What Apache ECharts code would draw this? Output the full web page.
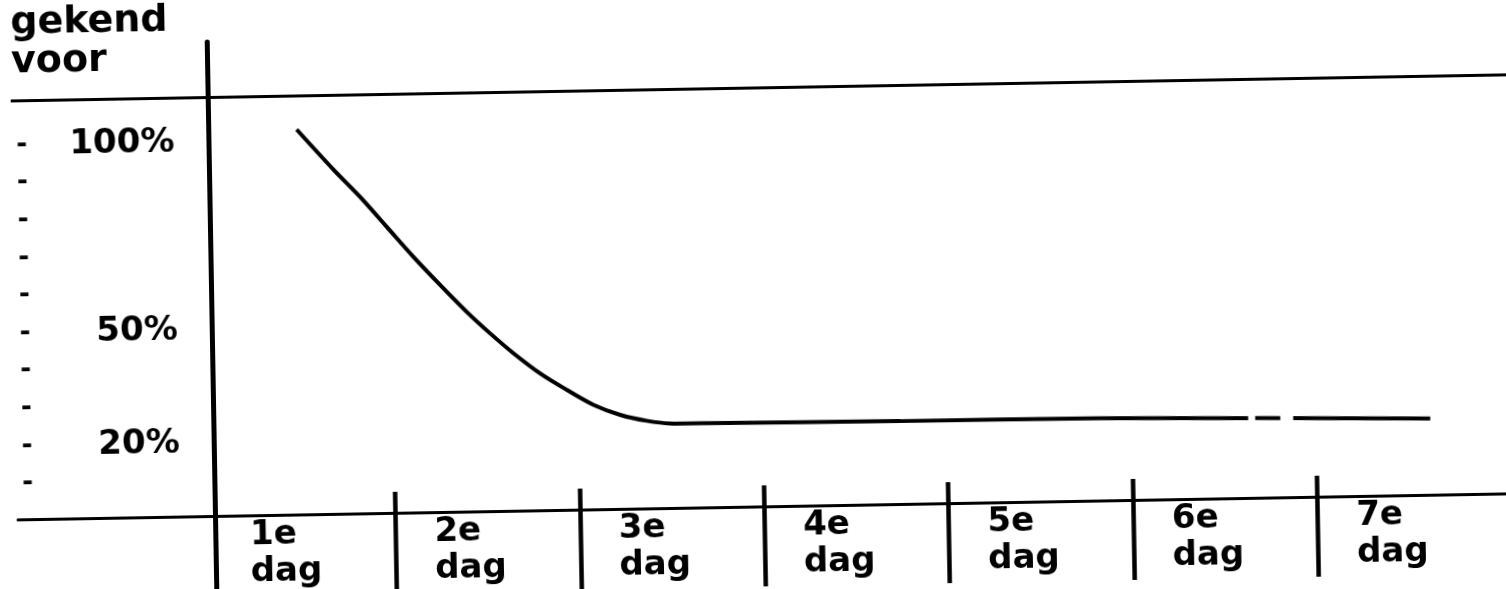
<!DOCTYPE html>
<html>
<head>
<meta charset="utf-8">
<script src="https://cdn.jsdelivr.net/npm/echarts@6/dist/echarts.min.js"></script>
<style>
html,body{margin:0;padding:0;background:#fff;overflow:hidden;width:1506px;height:589px;}
#c{position:absolute;left:0;top:0;width:1540px;height:620px;transform-origin:213px 516px;transform:rotate(-1deg);}
</style>
</head>
<body>
<div id="c"></div>
<script>
// ---- data ----
const axisTitle = 'gekend\nvoor';
const dayLabels = ['1e\ndag', '2e\ndag', '3e\ndag', '4e\ndag', '5e\ndag', '6e\ndag', '7e\ndag'];
const dayBoundaries = [1, 2, 3, 4, 5, 6];
const yTickValues = [10, 20, 30, 40, 50, 60, 70, 80, 90, 100];
const yTickLabels = ['', '20%', '', '', '50%', '', '', '', '', '100%'];
const topLineValue = 111.4;
// curve (x in days, y in %); null y = break in the drawn line
const curveX = [0.501, 0.696, 0.838, 0.980, 1.122, 1.264, 1.406, 1.530, 1.655, 1.798, 1.941, 2.084, 2.228, 2.372, 2.498, 2.661, 3.746, 4.830, 5.633, 5.650, 5.671, 5.807, 5.840, 5.877, 6.620];
const curveY = [102.4, 91.6, 84.2, 76.1, 68.0, 60.4, 53.1, 47.3, 41.9, 36.4, 31.9, 27.8, 25.0, 23.3, 22.5, 22.4, 22.1, 21.9, 21.2, null, 21.2, 21.1, null, 21.0, 20.3];

// ---- layout ----
const FONT = 'DejaVu Sans';
const xMin = -1.0466, xMax = 7.207;
const yMin = -27.66, yMax = 126.06;
const labelOffset = 0.21;
const yAxisShift = -197;   // y axis drawn inside the grid near x = 0
const xAxisShift = -104;   // x axis drawn inside the grid at y = 0

const chart = echarts.init(document.getElementById('c'), null, {renderer: 'canvas'});
const curveData = curveX.map((x, i) => [x, curveY[i]]);
const labelPositions = dayLabels.map((_, i) => i + labelOffset);

const option = {
  backgroundColor: '#fff',
  animation: false,
  title: {
    text: axisTitle,
    left: 19, top: 1, padding: 0,
    textStyle: {fontFamily: FONT, fontWeight: 'bold', fontSize: 38, lineHeight: 39, color: '#000'}
  },
  grid: {left: 18, right: 0, top: 42, bottom: 0, containLabel: false, outerBoundsMode: 'none'},
  xAxis: [{
    type: 'value', min: xMin, max: xMax, position: 'bottom', offset: xAxisShift,
    axisLine: {show: true, onZero: false, lineStyle: {color: '#000', width: 3}},
    axisTick: {show: true, inside: true, length: 21, customValues: dayBoundaries, lineStyle: {color: '#000', width: 4.5}},
    axisLabel: {
      show: true, customValues: labelPositions, align: 'left', margin: 2,
      fontFamily: FONT, fontWeight: 'bold', fontSize: 34, lineHeight: 37, color: '#000',
      formatter: v => dayLabels[Math.round(v - labelOffset)]
    },
    splitLine: {show: false}
  }, {
    type: 'value', min: xMin, max: xMax, position: 'bottom', offset: xAxisShift,
    axisLine: {show: false, onZero: false},
    axisTick: {show: true, inside: false, length: 80, customValues: dayBoundaries, lineStyle: {color: '#000', width: 4.5}},
    axisLabel: {show: false},
    splitLine: {show: false}
  }],
  yAxis: {
    type: 'value', min: yMin, max: yMax, position: 'left', offset: yAxisShift,
    axisLine: {show: true, onZero: false, lineStyle: {color: '#000', width: 5}},
    axisTick: {show: false},
    splitLine: {show: false},
    axisLabel: {
      show: true, customValues: yTickValues, align: 'left', margin: 192,
      formatter: v => {
        const lab = yTickLabels[yTickValues.indexOf(Math.round(v))] || '';
        return lab ? '{d|-}{v|' + lab + '}' : '{d|-}';
      },
      rich: {
        d: {fontFamily: 'Liberation Sans', fontWeight: 'bold', fontSize: 32, color: '#000', width: 20, align: 'left', verticalAlign: 'middle'},
        v: {fontFamily: FONT, fontWeight: 'bold', fontSize: 34, color: '#000', width: 138, align: 'right', verticalAlign: 'middle', padding: [5, 0, 0, 0]}
      }
    }
  },
  series: [{
    type: 'line', xAxisIndex: 0, data: curveData,
    showSymbol: false, smooth: 0.3, connectNulls: false,
    lineStyle: {color: '#000', width: 4},
    markLine: {
      silent: true, symbol: 'none', label: {show: false},
      lineStyle: {color: '#000', width: 3, type: 'solid'},
      data: [{yAxis: topLineValue}]
    }
  }]
};
chart.setOption(option);
</script>
</body>
</html>
